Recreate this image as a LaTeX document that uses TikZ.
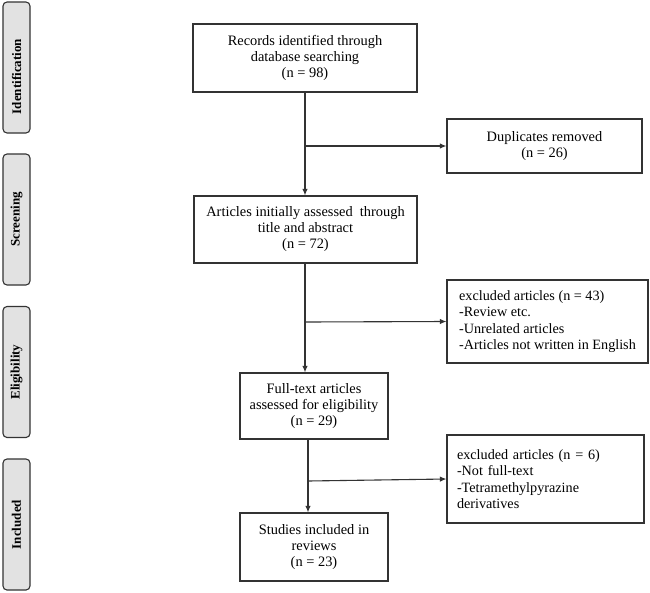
\documentclass[tikz,border=0pt]{standalone}
\usepackage{fontspec}
\setmainfont{Liberation Serif}
\usetikzlibrary{arrows.meta}
\definecolor{linec}{HTML}{333333}
\definecolor{barfill}{HTML}{E2E2E2}
\begin{document}
\begin{tikzpicture}[x=1pt,y=-1pt,
  flowbox/.style={draw=linec, line width=1.2pt, inner sep=0pt, align=center,
    font=\fontsize{14.4}{16}\selectfont},
  sidebox/.style={draw=linec, line width=1.2pt, inner sep=0pt, align=left,
    font=\fontsize{14.2}{16.5}\selectfont},
  stagebar/.style={draw=linec, fill=barfill, line width=1.1pt, rounded corners=4pt,
    minimum width=27pt, minimum height=131pt, inner sep=0pt},
  stagetext/.style={rotate=90, font=\bfseries\fontsize{13}{14}\selectfont},
  arr/.style={draw=linec, line width=1.1pt, -{Latex[length=6.5pt,width=5.5pt]}}
]
\useasboundingbox (0,0) rectangle (650,592);

% stage bars
\node[stagebar] (b1) at (16.5,67.5) {};
\node[stagetext] (t1) at ([yshift=-9pt]b1.center) {Identification};
\node[stagebar] (b2) at (16.5,219.5) {};
\node[stagetext] (t2) at (b2.center) {Screening};
\node[stagebar] (b3) at (16.5,372) {};
\node[stagetext] (t3) at (b3.center) {Eligibility};
\node[stagebar] (b4) at (16.5,524.5) {};
\node[stagetext] (t4) at (b4.center) {Included};

% main boxes
\node[flowbox, minimum width=224pt, minimum height=68pt] (rec) at (305,58)
  {Records identified through\\database searching\\(n = 98)};
\node[flowbox, minimum width=223pt, minimum height=67pt] (art) at (305.5,229.5)
  {Articles initially assessed\ \ through\\title and abstract\\(n = 72)};
\node[flowbox, minimum width=148pt, minimum height=66pt] (full) at (314,406)
  {Full-text articles\\assessed for eligibility\\(n = 29)};
\node[flowbox, minimum width=148pt, minimum height=68pt] (stud) at (314,547)
  {Studies included in\\reviews\\(n = 23)};

% side boxes
\node[flowbox, minimum width=195pt, minimum height=54pt] (dup) at (544.5,146)
  {Duplicates removed\\(n = 26)};
\node[sidebox, minimum width=201pt, minimum height=83pt] (ex1) at (547.5,321.5)
  {excluded articles (n = 43)\\-Review etc.\\-Unrelated articles\\-Articles not written in English};
\node[sidebox, inner xsep=10pt, text width=177pt, minimum height=88pt] (ex2) at (545.5,479)
  {excluded articles (n = 6)\\-Not full-text\\-Tetramethylpyrazine\\derivatives};

% connectors
\coordinate (c1) at (305,146);
\coordinate (c2) at (305,322);
\coordinate (c3) at (308,481);
\draw[arr] (rec.south -| c1) -- (art.north -| c1);
\draw[arr] (c1) -- (dup.west);
\draw[arr] (art.south -| c2) -- (full.north -| c2);
\draw[arr] (c2) -- (ex1.west);
\draw[arr] (full.south -| c3) -- (stud.north -| c3);
\draw[arr] (c3) -- (ex2.west);
\end{tikzpicture}
\end{document}
